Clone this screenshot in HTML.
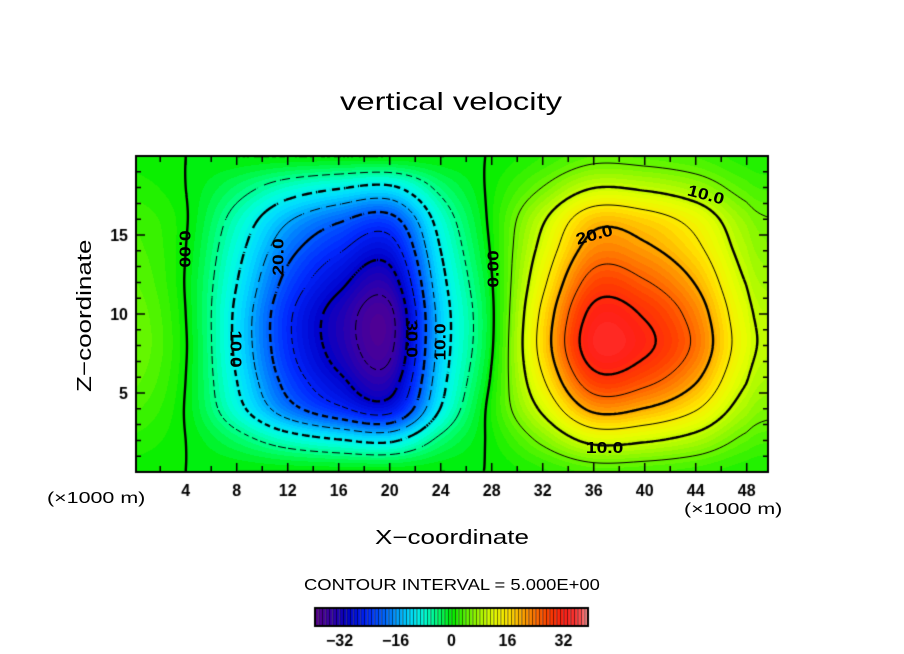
<!DOCTYPE html>
<html><head><meta charset="utf-8">
<style>
body{margin:0;background:#fff;width:904px;height:654px;position:relative;overflow:hidden;font-family:"Liberation Sans",sans-serif;color:#000}
.t{position:absolute;white-space:nowrap;font-size:17px;transform-origin:left top}
.lab{position:absolute;font-size:16px;font-weight:bold;white-space:nowrap;transform-origin:center center}
canvas{position:absolute;left:0;top:0}
</style></head><body>
<div class="t" style="left:340px;top:88px;font-size:25px;transform:scaleX(1.31)">vertical velocity</div>
<canvas id="c" width="904" height="654"></canvas>
<div class="t" style="left:74px;top:392px;transform:rotate(-90deg) scaleX(1.3);font-size:20px">Z−coordinate</div>
<div class="t" style="left:375px;top:527px;font-size:20px;transform:scaleX(1.3)">X−coordinate</div>
<div class="t" style="left:47px;top:490px;font-size:16px;transform:scaleX(1.34)">(×1000 m)</div>
<div class="t" style="left:684px;top:501px;font-size:16px;transform:scaleX(1.34)">(×1000 m)</div>
<div class="t" style="left:304px;top:577px;font-size:16px;transform:scaleX(1.15)">CONTOUR INTERVAL = 5.000E+00</div>
<div id="labs"></div>
<script>
// grid of w values: columns x (km), rows z (km)
const xs=[0,4,8,12,16,20,24,28,32,36,40,44,48,50];
const zs=[0,2,4,6,8,10,12,14,16,18,20];
const w0=[.5,0,0,0,0,0,0,.1,1.7,3.3,3.1,2.4,1.2,.9];
const w2=[1.7,0,-3.3,-7.2,-9.6,-10.8,-3.9,.6,5.8,11.2,10.5,8.2,4.1,3.1];
const w4=[3.2,-0.2,-8.3,-18,-24,-27,-9.8,1.2,10.9,21.1,19.8,15.4,7.7,5.8];
const w6=[4.4,0,-10.1,-22.1,-29.4,-33.1,-12,.4,14.8,28.7,27,20.9,10.4,7.8];
const w8=[5,0.2,-11,-24,-32,-36,-13,-0.4,17,33,31,24,12,9];
const w10=[4.8,0,-11,-24,-32,-36,-13,-0.6,16.2,31.4,29.5,22.8,11.4,8.6];
const w12=[4.1,-0.2,-9.9,-21.6,-28.8,-32.4,-11.7,-0.2,13.9,27.1,25.4,19.7,9.8,7.4];
const w14=[3.4,0,-8.5,-18.5,-24.6,-27.7,-10,.4,11.6,22.4,21.1,16.3,8.2,6.1];
const w16=[2.8,0.2,-6.6,-14.4,-19.2,-21.6,-7.8,.8,9.4,18.2,17.1,13.2,6.6,5];
const w18=[1.5,0,-3.3,-7.2,-9.6,-10.8,-3.9,.6,5.1,9.9,9.3,7.2,3.6,2.7];
const w20=[.6,0,0,0,0,0,0,.1,2,4,3.7,2.9,1.4,1.1];
const grid=[w0,w2,w4,w6,w8,w10,w12,w14,w16,w18,w20];
const levels=[-35,-30,-25,-20,-15,-10,-5,0,5,10,15,20,25,30,35];
const xTicks=[4,8,12,16,20,24,28,32,36,40,44,48];
const zTicks=[5,10,15];
const cbTicks=[-32,-16,0,16,32];

const PL=136,PT=156,PW=632,PH=316,X0=0.1,XK=12.75,ZK=15.8;
const sx=x=>PL+(x-X0)*XK, sz=z=>PT+PH-z*ZK;
function seg(arr,t){let i=0;while(i<arr.length-2&&t>arr[i+1])i++;return [i,Math.max(0,Math.min(1,(t-arr[i])/(arr[i+1]-arr[i])))];}
function cr(p0,p1,p2,p3,t){return 0.5*((2*p1)+(-p0+p2)*t+(2*p0-5*p1+4*p2-p3)*t*t+(-p0+3*p1-3*p2+p3)*t*t*t);}
function rowAt(r,x){const [i,t]=seg(xs,x);const a=r[Math.max(0,i-1)],b=r[i],c=r[i+1],d=r[Math.min(r.length-1,i+2)];return cr(a,b,c,d,t);}
function val(x,z){const [j,t]=seg(zs,z);const g=k=>rowAt(grid[Math.max(0,Math.min(grid.length-1,k))],x);return cr(g(j-1),g(j),g(j+1),g(j+2),t);}
const stops=[[-39,90,0,140],[-34,50,0,170],[-30,0,0,200],[-24,0,40,255],[-18,0,120,255],[-12,0,220,255],[-8,0,255,220],[-4,0,255,120],[0,0,238,0],[4,90,245,0],[8,170,250,0],[12,230,255,0],[16,255,230,0],[20,255,170,0],[24,255,110,0],[28,255,60,0],[32,255,30,20],[36,255,60,60],[39,255,150,150]];
function col(v){v=Math.max(-39,Math.min(39,v));for(let i=0;i<stops.length-1;i++){const a=stops[i],b=stops[i+1];if(v<=b[0]){const t=(v-a[0])/(b[0]-a[0]);return [0,1,2].map(k=>Math.round(a[k+1]+(b[k+1]-a[k+1])*t));}}return stops[stops.length-1].slice(1);}
const cv=document.getElementById('c'),ctx=cv.getContext('2d');
const img=ctx.createImageData(PW,PH);
const F=[];const S=2;
for(let py=0;py<PH;py++){const z=(PH-py-0.5)/ZK;for(let px=0;px<PW;px++){const x=X0+(px+0.5)/XK;const v=val(x,z);const c=col(Math.floor(v)+0.5);const o=(py*PW+px)*4;img.data[o]=c[0];img.data[o+1]=c[1];img.data[o+2]=c[2];img.data[o+3]=255;}}
ctx.putImageData(img,PL,PT);
const NX=Math.ceil(PW/S)+1,NY=Math.ceil(PH/S)+1;
for(let j=0;j<NY;j++){F[j]=[];for(let i=0;i<NX;i++){F[j][i]=val(X0+i*S/XK,(PH-j*S)/ZK);}}
ctx.save();ctx.beginPath();ctx.rect(PL,PT,PW,PH);ctx.clip();
levels.forEach(L=>{
  ctx.strokeStyle='#000';ctx.lineWidth=(L%10===0)?2.4:1;
  ctx.beginPath();
  for(let j=0;j<NY-1;j++)for(let i=0;i<NX-1;i++){
    const a=F[j][i],b=F[j][i+1],c=F[j+1][i+1],d=F[j+1][i];
    const pts=[];
    const e=(v1,v2,x1,y1,x2,y2)=>{if((v1<L)!==(v2<L)){const t=(L-v1)/(v2-v1);pts.push([x1+(x2-x1)*t,y1+(y2-y1)*t]);}};
    e(a,b,i,j,i+1,j);e(b,c,i+1,j,i+1,j+1);e(c,d,i+1,j+1,i,j+1);e(d,a,i,j+1,i,j);
    for(let k=0;k+1<pts.length;k+=2){
      const x1=PL+pts[k][0]*S,y1=PT+pts[k][1]*S,x2=PL+pts[k+1][0]*S,y2=PT+pts[k+1][1]*S;
      if(L<0&&((Math.floor((i+j)/2))%3===2))continue;
      ctx.moveTo(x1,y1);ctx.lineTo(x2,y2);
    }
  }
  ctx.stroke();
});
ctx.restore();
ctx.strokeStyle='#000';ctx.lineWidth=2;ctx.strokeRect(PL,PT,PW,PH);
ctx.lineWidth=1.5;ctx.fillStyle='#000';ctx.font='bold 16px "Liberation Sans",sans-serif';ctx.textAlign='center';
for(let x=2;x<=49;x+=2){const X=sx(x),len=(x%4===0)?9:6;ctx.beginPath();ctx.moveTo(X,PT+PH);ctx.lineTo(X,PT+PH-len);ctx.moveTo(X,PT);ctx.lineTo(X,PT+len);ctx.stroke();}
xTicks.forEach(x=>ctx.fillText(String(x),sx(x),PT+PH+24));
for(let z=1;z<20;z++){const Y=sz(z),len=(z%5===0)?9:5;ctx.beginPath();ctx.moveTo(PL,Y);ctx.lineTo(PL+len,Y);ctx.moveTo(PL+PW,Y);ctx.lineTo(PL+PW-len,Y);ctx.stroke();}
ctx.textAlign='right';zTicks.forEach(z=>ctx.fillText(String(z),PL-8,sz(z)+6));
const CB0=315,CBW=273,CBY=608,CBH=18,CBK=CBW/78;
for(let v=-39;v<39;v++){const c=col(v+0.5);ctx.fillStyle=`rgb(${c})`;ctx.fillRect(CB0+(v+39)*CBK,CBY,CBK,CBH);
 ctx.fillStyle='rgba(0,0,0,0.7)';ctx.fillRect(CB0+(v+39)*CBK,CBY,0.8,CBH);}
ctx.lineWidth=2;ctx.strokeRect(CB0,CBY,CBW,CBH);
ctx.fillStyle='#000';ctx.textAlign='center';
cbTicks.forEach(v=>ctx.fillText(String(v).replace('-','−'),CB0+(v+39)*CBK,CBY+CBH+20));
const labs=[["0.00",186,250,90],["10.0",237,350,90],["20.0",282,258,-90],["30.0",413,340,90],["10.0",444,343,-90],["0.00",497,270,-90],["10.0",708,197,15],["20.0",597,237,-15],["10.0",607,450,0]];
const box=document.getElementById('labs');
labs.forEach(l=>{const d=document.createElement('div');d.className='lab';d.textContent=l[0];


d.style.left=(l[1]-18)+'px';d.style.top=(l[2]-10)+'px';d.style.transform='rotate('+l[3]+'deg) scaleX(1.2)';box.appendChild(d);});
</script>
</body></html>
